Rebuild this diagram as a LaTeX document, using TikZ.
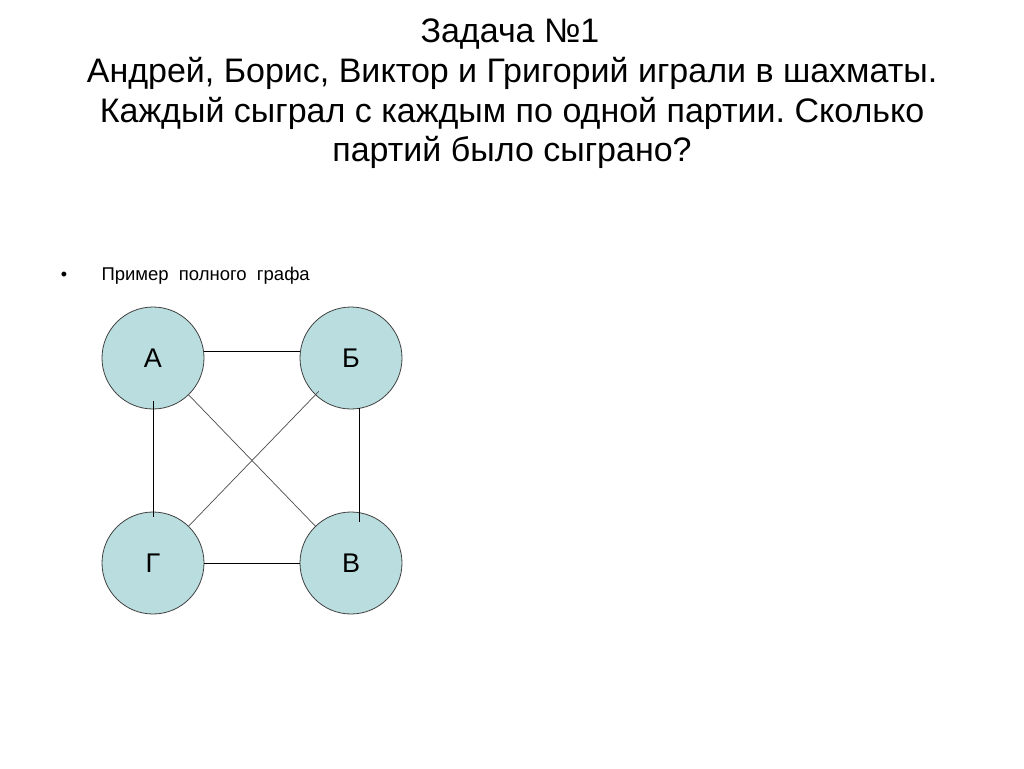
\documentclass[tikz,border=0pt]{standalone}
\usepackage{fontspec}
\setmainfont{Liberation Sans}
\usetikzlibrary{positioning}
\definecolor{bolinha}{RGB}{186,222,224}
\frenchspacing
\newcommand{\fonteTitulo}{\fontsize{34}{40}\selectfont}
\newcommand{\fonteItem}{\fontsize{18.5}{20}\selectfont\spaceskip 0.55em\relax}

\begin{document}
\begin{tikzpicture}[x=1pt, y=-1pt,
  vertice/.style={circle, draw=black!75, line width=0.8pt, fill=bolinha,
    minimum size=102pt, inner sep=0pt, font=\fontsize{27}{30}\selectfont},
  aresta/.style={line width=0.8pt, black},
  diagonal/.style={line width=0.7pt, black!70},
  titulo/.style={anchor=base, font=\fonteTitulo}]
  \useasboundingbox[fill=white] (0,0) rectangle (1024,768);
  % enunciado
  \node[titulo] (tit1) at (510,43) {Задача №1};
  \node[titulo] (tit2) at (512,82) {Андрей, Борис, Виктор и Григорий играли в шахматы.};
  \node[titulo] (tit3) at (512,122) {Каждый сыграл с каждым по одной партии. Сколько};
  \node[titulo] (tit4) at (512,161) {партий было сыграно?};
  % item
  \node[anchor=base, font=\fontsize{18}{20}\selectfont] (bala) at (64,280) {•};
  \node[anchor=base west, font=\fonteItem] (item) at (98,280)
    {Пример полного графа};
  % vertices
  \node[vertice] (nA) at (153,358) {А};
  \node[vertice] (nB) at (351,358) {Б};
  \node[vertice] (nG) at (153,563) {Г};
  \node[vertice] (nV) at (351,563) {В};
  % arestas
  \draw[aresta] ([yshift=7pt]nA.east) -- ([yshift=7pt]nB.west);
  \draw[aresta] (nG) -- (nV);
  \draw[aresta, shorten <=-8pt, shorten >=-5pt] (nA) -- (nG);
  \draw[aresta, shorten <=-1pt, shorten >=-10pt] ([xshift=8pt]nB.south) -- ([xshift=8pt]nV.north);
  \draw[diagonal] (nA) -- (nV);
  \draw[diagonal, shorten <=-5pt] (nB) -- (nG);
\end{tikzpicture}
\end{document}
